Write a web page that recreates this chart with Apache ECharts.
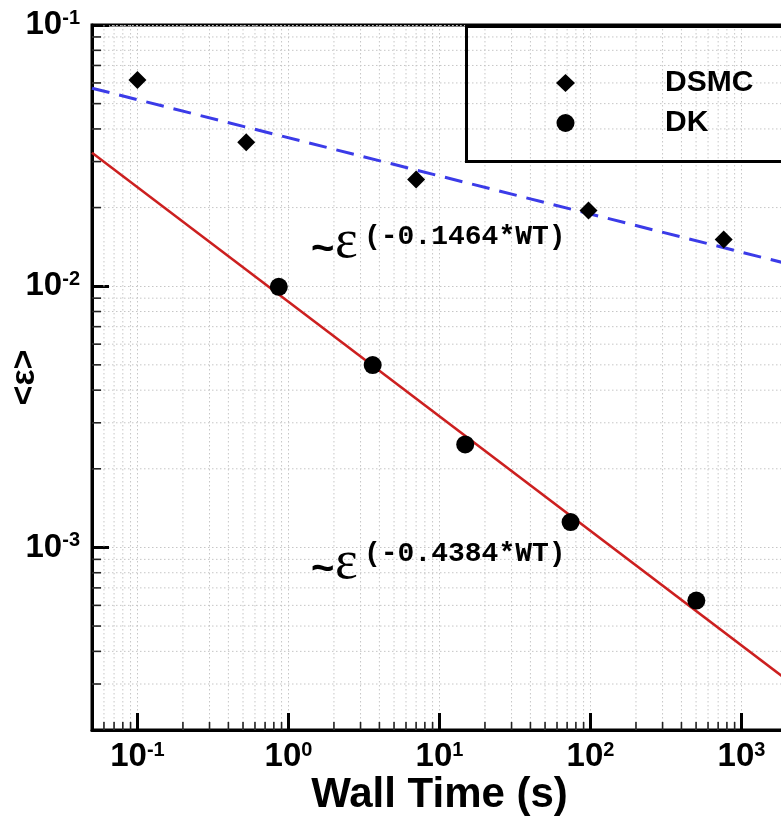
<!DOCTYPE html>
<html>
<head>
<meta charset="utf-8">
<script src="https://cdn.jsdelivr.net/npm/echarts@6/dist/echarts.min.js"></script>
<style>
  html, body { margin: 0; padding: 0; background: #fff; }
  #chart { width: 781px; height: 828px; }
</style>
</head>
<body>
<div id="chart"></div>
<script>
// Mean error <ε> against wall time for the DSMC and DK solvers (log-log)
const dsmcTime = [0.1, 0.525, 7.0, 97, 762];
const dsmcErr  = [0.0616, 0.0356, 0.0256, 0.0195, 0.0151];
const dkTime   = [0.863, 3.61, 14.8, 73.8, 502];
const dkErr    = [0.00995, 0.00499, 0.00248, 0.00125, 0.000626];

// Fitted power-law trends, given by their values at the two axis limits
const dsmcFitTime = [0.05, 2000];
const dsmcFitErr  = [0.0573, 0.0122];
const dkFitTime   = [0.05, 2000];
const dkFitErr    = [0.0324, 0.000311];

const dsmcFitText = '(-0.1464*WT)';
const dkFitText   = '(-0.4384*WT)';

// Axis limits and the decades used to place minor ticks
const X_MIN = 0.05, X_MAX = 2000;
const Y_MIN = 2e-4, Y_MAX = 0.1;
const xDecades = [0.01, 0.1, 1, 10, 100, 1000];
const yDecades = [1e-4, 1e-3, 1e-2];
const mantissas = [2, 3, 4, 5, 6, 7, 8, 9];

function minorTicks(decades, lo, hi) {
  const out = [];
  decades.forEach(d => mantissas.forEach(m => {
    const v = +(d * m).toPrecision(6);
    if (v > lo * 1.0001 && v < hi * 0.9999) out.push(v);
  }));
  return out;
}
const xMinor = minorTicks(xDecades, X_MIN, X_MAX);
const yMinor = minorTicks(yDecades, Y_MIN, Y_MAX);

const GRID_COLOR = '#c6c6c6';
const GRID_DASH = [1.5, 2.5];
const SANS = 'Liberation Sans, Arial, Helvetica, sans-serif';

function zip(a, b) { return a.map((v, i) => [v, b[i]]); }

function powLabel(v) {
  const e = Math.log10(v);
  const r = Math.round(e);
  if (Math.abs(e - r) > 1e-6) return '';
  return '{b|10}{s|' + r + '}';
}

const labelRich = {
  b: { fontFamily: SANS, fontWeight: 'bold', fontSize: 33, lineHeight: 34, color: '#000' },
  s: { fontFamily: SANS, fontWeight: 'bold', fontSize: 20, lineHeight: 20, color: '#000', verticalAlign: 'top' }
};

// Minor grid lines and short inward ticks on the log axes
function renderMinorX(params, api) {
  const cs = params.coordSys;
  const x = api.coord([api.value(0), Y_MIN])[0];
  const yb = cs.y + cs.height;
  return {
    type: 'group',
    children: [
      { type: 'line', silent: true, shape: { x1: x, y1: cs.y, x2: x, y2: yb },
        style: { stroke: GRID_COLOR, lineWidth: 1, lineDash: GRID_DASH } },
      { type: 'line', silent: true, shape: { x1: x, y1: yb, x2: x, y2: yb - 8 },
        style: { stroke: '#222', lineWidth: 1.6 } }
    ]
  };
}
function renderMinorY(params, api) {
  const cs = params.coordSys;
  const y = api.coord([X_MIN, api.value(1)])[1];
  return {
    type: 'group',
    children: [
      { type: 'line', silent: true, shape: { x1: cs.x, y1: y, x2: cs.x + cs.width, y2: y },
        style: { stroke: GRID_COLOR, lineWidth: 1, lineDash: GRID_DASH } },
      { type: 'line', silent: true, shape: { x1: cs.x, y1: y, x2: cs.x + 9, y2: y },
        style: { stroke: '#222', lineWidth: 1.6 } }
    ]
  };
}

const chart = echarts.init(document.getElementById('chart'), null, { renderer: 'canvas' });

chart.setOption({
  animation: false,
  backgroundColor: '#fff',
  grid: {
    left: 92, top: 25, bottom: 98, right: -6,
    containLabel: false, outerBoundsMode: 'none',
    show: true, borderColor: '#000', borderWidth: 3, backgroundColor: 'transparent'
  },
  legend: {
    orient: 'vertical',
    left: 551, top: 63,
    itemWidth: 19, itemHeight: 18, itemGap: 10,
    selectedMode: false,
    data: [{ name: 'DSMC', icon: 'diamond' }, { name: 'DK', icon: 'circle' }],
    textStyle: { fontFamily: SANS, fontWeight: 'bold', fontSize: 30, color: '#000',
                 lineHeight: 18, padding: [0, 0, 0, 85] }
  },
  xAxis: {
    type: 'log', min: X_MIN, max: X_MAX,
    name: 'Wall Time (s)', nameLocation: 'middle', nameGap: 44, nameMoveOverlap: false,
    nameTextStyle: { fontFamily: SANS, fontWeight: 'bold', fontSize: 42, color: '#000' },
    axisLine: { show: true, lineStyle: { color: '#000', width: 3 } },
    axisTick: { show: true, inside: true, length: 17, lineStyle: { color: '#000', width: 3 } },
    axisLabel: { margin: 10, formatter: powLabel, rich: labelRich },
    splitLine: { show: true, lineStyle: { color: GRID_COLOR, width: 1, type: GRID_DASH } }
  },
  yAxis: {
    type: 'log', min: Y_MIN, max: Y_MAX,
    name: '<ε>', nameLocation: 'middle', nameGap: 50, nameMoveOverlap: false,
    nameTextStyle: { fontFamily: SANS, fontWeight: 'bold', fontSize: 34, color: '#000' },
    axisLine: { show: true, lineStyle: { color: '#000', width: 3 } },
    axisTick: { show: true, inside: true, length: 17, lineStyle: { color: '#000', width: 3 } },
    axisLabel: { margin: 12, formatter: powLabel, rich: labelRich },
    splitLine: { show: true, lineStyle: { color: GRID_COLOR, width: 1, type: GRID_DASH } }
  },
  graphic: [
    // legend frame
    { type: 'rect', left: 465, top: 25, z: 50, silent: true,
      shape: { width: 330, height: 135 },
      style: { fill: 'transparent', stroke: '#000', lineWidth: 3 } },
    // trend annotations
    { type: 'text', x: 311, y: 250, z: 50, silent: true,
      style: { text: '~', font: 'bold 40px ' + SANS, fill: '#000', verticalAlign: 'middle' } },
    { type: 'text', x: 335, y: 243, z: 50, silent: true,
      style: { text: 'ε', font: '54px "Liberation Serif", "Times New Roman", serif', fill: '#000', verticalAlign: 'middle' } },
    { type: 'text', x: 364, y: 237, z: 50, silent: true,
      style: { text: dsmcFitText, font: 'bold 28px "Liberation Mono", "Courier New", monospace', fill: '#000', verticalAlign: 'middle' } },
    { type: 'text', x: 311, y: 570, z: 50, silent: true,
      style: { text: '~', font: 'bold 40px ' + SANS, fill: '#000', verticalAlign: 'middle' } },
    { type: 'text', x: 335, y: 564, z: 50, silent: true,
      style: { text: 'ε', font: '54px "Liberation Serif", "Times New Roman", serif', fill: '#000', verticalAlign: 'middle' } },
    { type: 'text', x: 364, y: 554, z: 50, silent: true,
      style: { text: dkFitText, font: 'bold 28px "Liberation Mono", "Courier New", monospace', fill: '#000', verticalAlign: 'middle' } }
  ],
  series: [
    { name: 'minorX', type: 'custom', renderItem: renderMinorX, silent: true, z: 1,
      data: xMinor.map(v => [v, Y_MIN]) },
    { name: 'minorY', type: 'custom', renderItem: renderMinorY, silent: true, z: 1,
      data: yMinor.map(v => [X_MIN, v]) },
    { name: 'DSMC fit', type: 'line', data: zip(dsmcFitTime, dsmcFitErr), symbol: 'none', z: 3,
      lineStyle: { color: '#3b3be8', width: 3, type: [18, 10] } },
    { name: 'DK fit', type: 'line', data: zip(dkFitTime, dkFitErr), symbol: 'none', z: 3,
      lineStyle: { color: '#cc1f1f', width: 2.5 } },
    { name: 'DSMC', type: 'scatter', data: zip(dsmcTime, dsmcErr), symbol: 'diamond', symbolSize: 18, z: 4,
      itemStyle: { color: '#000', opacity: 1 } },
    { name: 'DK', type: 'scatter', data: zip(dkTime, dkErr), symbol: 'circle', symbolSize: 18, z: 4,
      itemStyle: { color: '#000', opacity: 1 } }
  ]
});
</script>
</body>
</html>
